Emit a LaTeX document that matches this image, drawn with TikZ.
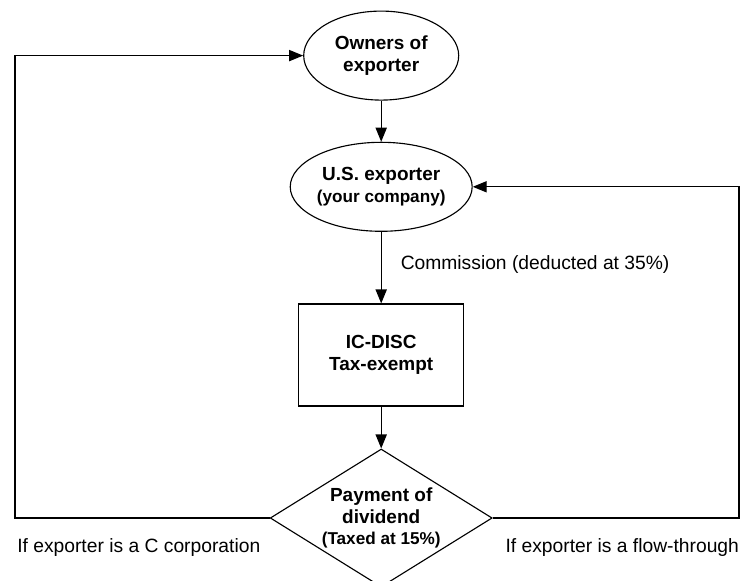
\documentclass[tikz,border=0pt]{standalone}
\usepackage{fontspec}
\setmainfont{Liberation Sans}
\usepackage{xcolor}
\definecolor{flow-line}{HTML}{000000}
\usepackage{tikz}
\usetikzlibrary{
  shapes.geometric,
  arrows.meta,
  positioning
}

\begin{document}
\begin{tikzpicture}[
    party/.style={
      ellipse,
      draw=flow-line,
      line width=0.8pt,
      minimum width=3.875cm,
      minimum height=2.225cm,
      inner sep=0pt,
      font=\fontsize{13.5}{15.4}\selectfont\bfseries,
      align=center
    },
    entity/.style={
      rectangle,
      draw=flow-line,
      line width=0.8pt,
      minimum width=4.125cm,
      minimum height=2.55cm,
      font=\fontsize{13.5}{15.4}\selectfont\bfseries,
      align=center
    },
    decision/.style={
      diamond,
      draw=flow-line,
      line width=0.8pt,
      aspect=1.6,
      minimum width=5.55cm,
      minimum height=3.45cm,
      inner sep=0pt,
      font=\fontsize{13.5}{15.4}\selectfont\bfseries,
      align=center
    },
    rel/.style={
      -{Triangle[length=0.35cm, width=0.28cm]},
      line width=0.8pt,
      color=flow-line
    },
    lbl/.style={
      font=\fontsize{13.7}{16}\selectfont,
      inner sep=0pt
    }
  ]
    \useasboundingbox (0, 0) rectangle (18.85, -14.525);

    % ---- Main column ----
    \node[party]    (owners)   at (9.53, -1.39)   {Owners of\\exporter};
    \node[party]    (usx)      at (9.53, -4.67)   {U.S. exporter\\{\fontsize{12.2}{15.4}\selectfont (your company)}};
    \node[entity]   (disc)     at (9.53, -8.875)  {IC-DISC\\Tax-exempt};
    \node[decision] (dividend) at (9.53, -12.95)  {Payment of\\dividend\\{\fontsize{12.2}{15.4}\selectfont (Taxed at 15\%)}};

    % ---- Return corners ----
    \coordinate (lcorner) at (0.375, -12.95);
    \coordinate (rcorner) at (18.475, -12.95);

    % ---- Downward flow ----
    \draw[rel] (owners.south) -- (usx.north);
    \draw[rel] (usx.south) -- (disc.north)
      node[lbl, pos=0.46, right=0.475cm] {Commission (deducted at 35\%)};
    \draw[rel] (disc.south) -- (dividend.north);

    % ---- Dividend branches ----
    \draw[rel] (dividend.west) -- (lcorner) |- (owners.west);
    \draw[rel] (dividend.east) -- (rcorner) |- (usx.east);

    \node[lbl, anchor=base west] (ccorp) at (0.425, -13.81)  {If exporter is a C corporation};
    \node[lbl, anchor=base east] (flowt) at (18.48, -13.81)  {If exporter is a flow-through};
  \end{tikzpicture}
\end{document}
